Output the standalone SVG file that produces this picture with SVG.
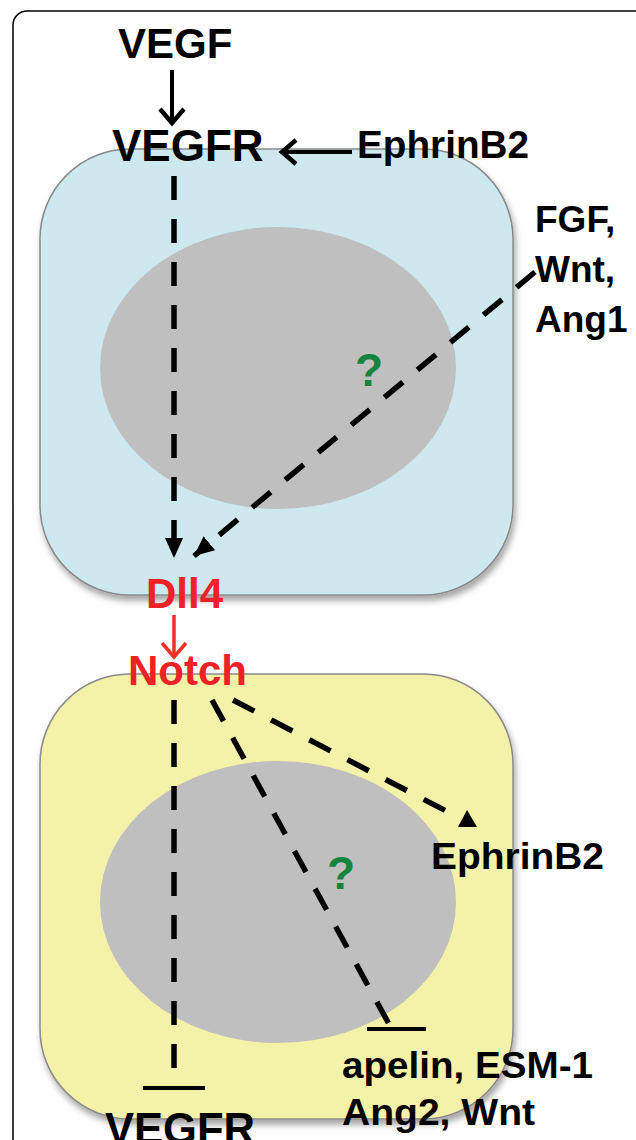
<svg xmlns="http://www.w3.org/2000/svg" width="636" height="1140" viewBox="0 0 636 1140">
<style>
.t{font-family:"Liberation Sans",Arial,sans-serif;font-weight:bold;fill:#000}
.red{fill:#ee2226}
.q{font-family:"Liberation Sans",Arial,sans-serif;font-weight:bold;fill:#15843f;font-size:46px}
.dash{stroke:#000;stroke-width:5.5;stroke-dasharray:24 19;fill:none}
.solid{stroke:#000;stroke-width:4;fill:none}
.cell{stroke:#8a8a8a;stroke-width:1.5}
.nuc{fill:#bfbfbf}
</style>
<defs>
<filter id="sh" x="-10%" y="-10%" width="125%" height="125%">
<feDropShadow dx="2" dy="5" stdDeviation="3" flood-color="#000" flood-opacity="0.35"/>
</filter>
<marker id="chev" viewBox="0 0 20 28" refX="17" refY="14" markerWidth="20" markerHeight="28" markerUnits="userSpaceOnUse" orient="auto" overflow="visible">
<path d="M3,2 L17,14 L3,26" fill="none" stroke="#000" stroke-width="4.5"/>
</marker>
<marker id="chevred" viewBox="0 0 20 28" refX="17" refY="14" markerWidth="20" markerHeight="28" markerUnits="userSpaceOnUse" orient="auto" overflow="visible">
<path d="M3,2 L17,14 L3,26" fill="none" stroke="#ee3124" stroke-width="3.5"/>
</marker>
<marker id="tri" viewBox="0 0 20 18" refX="20" refY="9" markerWidth="20" markerHeight="18" markerUnits="userSpaceOnUse" orient="auto">
<path d="M0,0 L20,9 L0,18 z" fill="#000"/>
</marker>
</defs>
<rect x="13" y="11" width="640" height="1160" rx="14" fill="#fff" stroke="#000" stroke-width="1.5"/>
<g id="cell1">
<rect class="cell" x="40" y="149" width="473" height="446" rx="90" fill="#cde9ef" filter="url(#sh)"/>
<ellipse class="nuc" cx="278" cy="368" rx="178" ry="141"/>
</g>
<g id="cell2">
<rect class="cell" x="40" y="674" width="473" height="445" rx="90" fill="#f4f2a8" filter="url(#sh)"/>
<ellipse class="nuc" cx="278" cy="902" rx="178" ry="141"/>
</g>
<g id="connectors">
<line class="solid" x1="172" y1="70" x2="172" y2="123" marker-end="url(#chev)"/>
<line class="solid" x1="352" y1="152" x2="282" y2="152" marker-end="url(#chev)"/>
<line class="dash" x1="174" y1="176" x2="174" y2="558" marker-end="url(#tri)"/>
<line class="dash" x1="535" y1="272" x2="194" y2="556" marker-end="url(#tri)"/>
<line x1="174" y1="615" x2="174" y2="657" stroke="#ee3124" stroke-width="3.5" marker-end="url(#chevred)"/>
<line class="dash" x1="174" y1="700" x2="174" y2="1072"/>
<line x1="143" y1="1088" x2="205" y2="1088" stroke="#000" stroke-width="4"/>
<line class="dash" x1="212" y1="700" x2="390" y2="1026"/>
<line x1="367" y1="1029" x2="426" y2="1029" stroke="#000" stroke-width="4"/>
<line class="dash" x1="233" y1="700" x2="448" y2="812"/>
<polygon points="467,810 458,827 477,827" fill="#000"/>
</g>
<g id="n-vegf"><text class="t" x="118" y="58" font-size="42">VEGF</text></g>
<g id="n-vegfr1"><text class="t" x="112" y="161" font-size="44">VEGFR</text></g>
<g id="n-ephrin1"><text class="t" x="357" y="158" font-size="38" textLength="172" lengthAdjust="spacingAndGlyphs">EphrinB2</text></g>
<g id="n-fgf">
<text class="t" x="535" y="232" font-size="37">FGF,</text>
<text class="t" x="535" y="282" font-size="37">Wnt,</text>
<text class="t" x="535" y="332" font-size="37">Ang1</text>
</g>
<g id="q1"><text class="q" x="355" y="386">?</text></g>
<g id="n-dll4"><text class="t red" x="146" y="608" font-size="42">Dll4</text></g>
<g id="n-notch"><text class="t red" x="128" y="685" font-size="42">Notch</text></g>
<g id="q2"><text class="q" x="327" y="889">?</text></g>
<g id="n-ephrin2"><text class="t" x="431" y="869" font-size="37" textLength="173" lengthAdjust="spacingAndGlyphs">EphrinB2</text></g>
<g id="n-apelin">
<text class="t" x="342" y="1078" font-size="37" textLength="251" lengthAdjust="spacingAndGlyphs">apelin, ESM-1</text>
<text class="t" x="342" y="1125" font-size="37" textLength="193" lengthAdjust="spacingAndGlyphs">Ang2, Wnt</text>
</g>
<g id="n-vegfr2"><text class="t" x="105" y="1144" font-size="44" textLength="150" lengthAdjust="spacingAndGlyphs">VEGFR</text></g>
</svg>
